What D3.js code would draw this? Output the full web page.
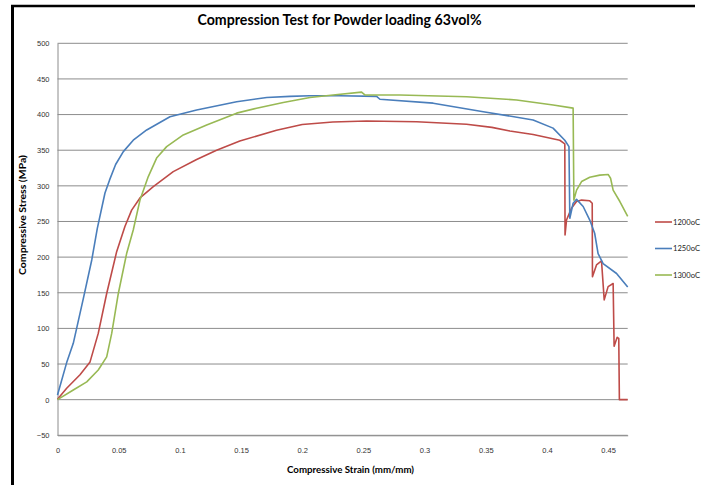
<!DOCTYPE html>
<html>
<head>
<meta charset="utf-8">
<script src="https://cdn.jsdelivr.net/npm/d3@7"></script>
<style>
  body { margin: 0; background: #fff; }
  svg { display: block; font-family: Lato, "Open Sans", sans-serif; }
</style>
</head>
<body>
<svg id="chart"></svg>
<script>
// series names + colours
const seriesNames = ["1200oC", "1250oC", "1300oC"];
const seriesColors = ["#BE4B48", "#4A7EBB", "#98B954"];

const xTicks = [0, 0.05, 0.1, 0.15, 0.2, 0.25, 0.3, 0.35, 0.4, 0.45];
const yTicks = [-50, 0, 50, 100, 150, 200, 250, 300, 350, 400, 450, 500];

// 1200oC
const strain1200 = [0, 0.0075, 0.0184, 0.0266, 0.0333, 0.0402, 0.0484, 0.0551, 0.0606, 0.0674, 0.0783, 0.0946, 0.1137, 0.130, 0.149, 0.179, 0.2, 0.225, 0.2526, 0.2935, 0.3343, 0.355, 0.3697, 0.3887, 0.4105, 0.4146, 0.4148, 0.416, 0.420, 0.4242, 0.4283, 0.435, 0.437, 0.4372, 0.4405, 0.4446, 0.4468, 0.450, 0.4541, 0.4549, 0.4574, 0.4587, 0.4592, 0.466];
const stress1200 = [0.5, 16, 35, 53, 93, 149, 208, 243, 266, 283, 299, 320, 337, 350, 363, 378, 386, 389.5, 391, 390, 386.4, 382, 377, 372, 364, 359, 231, 252, 268.5, 278, 280, 279, 275.6, 172.6, 189, 194.6, 140, 158.6, 163, 75, 87.5, 86, 0, 0];

// 1250oC
const strain1250 = [0, 0.0075, 0.0129, 0.021, 0.028, 0.0325, 0.0388, 0.0425, 0.0475, 0.0538, 0.0619, 0.0729, 0.0919, 0.1137, 0.1464, 0.171, 0.19, 0.2063, 0.23, 0.2608, 0.2635, 0.307, 0.348, 0.3887, 0.405, 0.4146, 0.418, 0.4187, 0.4214, 0.4242, 0.4296, 0.435, 0.439, 0.4418, 0.4459, 0.4569, 0.466];
const stress1250 = [6.6, 52, 79, 141, 196, 240, 290, 308, 330, 348, 364, 378.4, 397, 406.5, 418, 424, 425.5, 426.5, 426.5, 425.5, 421.5, 416, 404, 392.5, 381, 364, 355, 254.5, 275.6, 281, 271, 252, 233.5, 205, 191, 177, 158];

// 1300oC
const strain1300 = [0, 0.0129, 0.0239, 0.0333, 0.0402, 0.0443, 0.0497, 0.0565, 0.0619, 0.0674, 0.0742, 0.081, 0.0892, 0.1028, 0.1219, 0.1464, 0.1627, 0.1845, 0.2063, 0.2253, 0.2485, 0.2512, 0.2798, 0.3343, 0.3752, 0.4051, 0.4214, 0.422, 0.4242, 0.4283, 0.435, 0.4432, 0.45, 0.452, 0.4541, 0.4596, 0.466];
const stress1300 = [0, 13.6, 25, 41.7, 60, 93, 149, 205, 238, 280, 313, 339, 355, 371.4, 385.4, 402, 409, 417, 424, 427.5, 431.5, 427.5, 427.5, 425, 420.5, 413.5, 409, 280, 294, 306, 312, 315, 316, 310.6, 294, 278, 257];

const series = [
  d3.zip(strain1200, stress1200),
  d3.zip(strain1250, stress1250),
  d3.zip(strain1300, stress1300)
];

const width = 701, height = 485;
const plot = { left: 57.5, right: 627.7, top: 43.3, bottom: 435.3 };

const x = d3.scaleLinear().domain([0, 0.466]).range([plot.left, plot.right]);
const y = d3.scaleLinear().domain([-50, 500]).range([plot.bottom, plot.top]);

const svg = d3.select("#chart")
  .attr("width", width)
  .attr("height", height)
  .attr("viewBox", [0, 0, width, height]);

svg.append("rect").attr("width", width).attr("height", height).attr("fill", "#fff");

// frame (top + left edges visible)
svg.append("line").attr("x1", 11).attr("x2", 695).attr("y1", 6).attr("y2", 6)
  .attr("stroke", "#000").attr("stroke-width", 2.5);
svg.append("line").attr("x1", 12.5).attr("x2", 12.5).attr("y1", 5).attr("y2", height)
  .attr("stroke", "#000").attr("stroke-width", 3);

// gridlines
svg.append("g")
  .selectAll("line")
  .data(yTicks)
  .join("line")
  .attr("x1", plot.left).attr("x2", plot.right)
  .attr("y1", d => y(d)).attr("y2", d => y(d))
  .attr("stroke", "#8c8c8c").attr("stroke-width", 1);

// y axis
const yAxis = svg.append("g")
  .attr("transform", "translate(" + plot.left + ",0)")
  .call(d3.axisLeft(y).tickValues(yTicks).tickSize(0).tickPadding(8).tickFormat(d3.format("d")));
yAxis.select(".domain").attr("stroke", "#8c8c8c");
yAxis.selectAll("text").attr("font-size", 7.5).attr("fill", "#333");

// x axis
const xAxis = svg.append("g")
  .attr("transform", "translate(0," + plot.bottom + ")")
  .call(d3.axisBottom(x).tickValues(xTicks).tickSize(0).tickPadding(12).tickFormat(d => d === 0 ? "0" : String(d)));
xAxis.select(".domain").attr("stroke", "#8c8c8c");
xAxis.selectAll("text").attr("font-size", 7.5).attr("fill", "#333");

// curves
const line = d3.line().x(d => x(d[0])).y(d => y(d[1]));
svg.append("g")
  .selectAll("path")
  .data(series)
  .join("path")
  .attr("fill", "none")
  .attr("stroke", (d, i) => seriesColors[i])
  .attr("stroke-width", 1.6)
  .attr("stroke-linejoin", "round")
  .attr("d", line);

// title
svg.append("text")
  .attr("x", 339.5).attr("y", 25)
  .attr("text-anchor", "middle")
  .attr("font-size", 15).attr("font-weight", "bold")
  .attr("textLength", 284).attr("lengthAdjust", "spacingAndGlyphs")
  .text("Compression Test for Powder loading 63vol%");

// axis titles
svg.append("text")
  .attr("x", 350.5).attr("y", 473)
  .attr("text-anchor", "middle")
  .attr("font-size", 9.5).attr("font-weight", "bold")
  .attr("textLength", 127).attr("lengthAdjust", "spacingAndGlyphs")
  .text("Compressive Strain (mm/mm)");

svg.append("text")
  .attr("transform", "translate(25.5,215) rotate(-90)")
  .attr("text-anchor", "middle")
  .attr("font-size", 9.5).attr("font-weight", "bold")
  .attr("textLength", 120).attr("lengthAdjust", "spacingAndGlyphs")
  .text("Compressive Stress (MPa)");

// legend
const legend = svg.append("g")
  .selectAll("g")
  .data(seriesNames)
  .join("g")
  .attr("transform", (d, i) => "translate(655," + (222 + i * 26.5) + ")");
legend.append("line")
  .attr("x1", 0).attr("x2", 17)
  .attr("stroke", (d, i) => seriesColors[i]).attr("stroke-width", 1.6);
legend.append("text")
  .attr("x", 18).attr("dy", "0.35em")
  .attr("font-size", 7.5).attr("fill", "#222")
  .attr("textLength", 27).attr("lengthAdjust", "spacingAndGlyphs")
  .text(d => d);
</script>
</body>
</html>
